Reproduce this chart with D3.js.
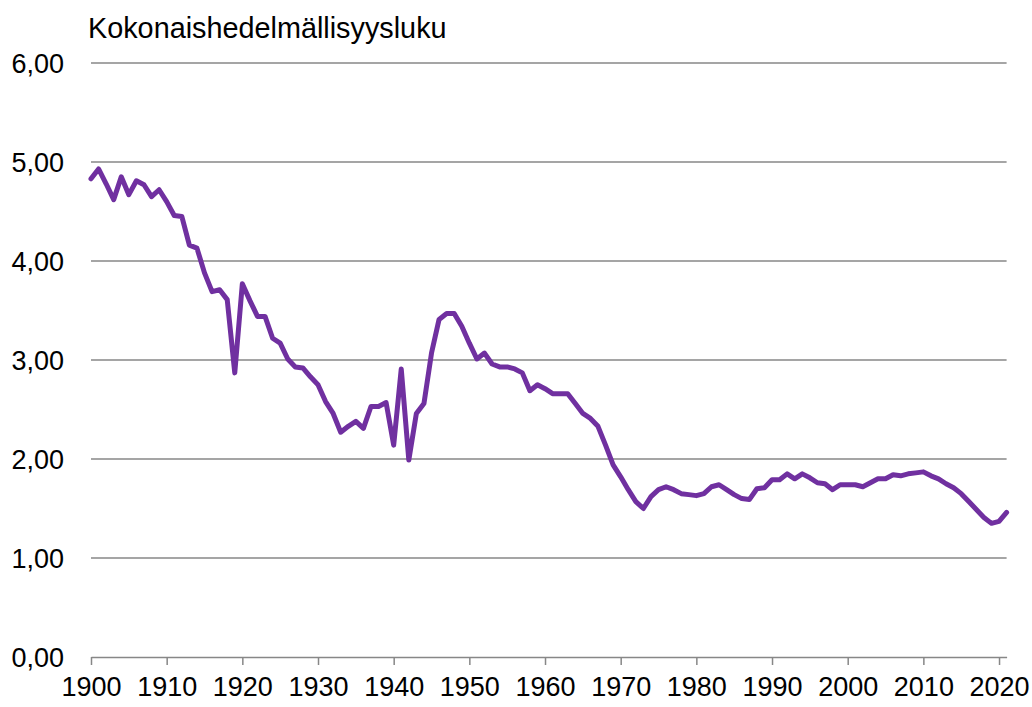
<!DOCTYPE html>
<html>
<head>
<meta charset="utf-8">
<script src="https://cdn.jsdelivr.net/npm/d3@7"></script>
<style>
  body { margin: 0; background: #fff; }
  text { font-family: "Liberation Sans", Arial, sans-serif; fill: #000; }
</style>
</head>
<body>
<svg id="chart"></svg>
<script>
// Total fertility rate in Finland, 1900-2021
const years = d3.range(1900, 2022);
const fertility = [
  4.83, 4.93, 4.78, 4.62, 4.85, 4.67, 4.81, 4.77, 4.65, 4.72,
  4.60, 4.46, 4.45, 4.16, 4.13, 3.88, 3.69, 3.71, 3.61, 2.87,
  3.77, 3.60, 3.44, 3.44, 3.22, 3.17, 3.01, 2.93, 2.92, 2.83,
  2.75, 2.58, 2.46, 2.27, 2.33, 2.38, 2.31, 2.53, 2.53, 2.57,
  2.14, 2.91, 1.99, 2.46, 2.56, 3.07, 3.41, 3.47, 3.47, 3.34,
  3.17, 3.01, 3.07, 2.96, 2.93, 2.93, 2.91, 2.87, 2.69, 2.75,
  2.71, 2.66, 2.66, 2.66, 2.56, 2.46, 2.41, 2.33, 2.14, 1.94,
  1.82, 1.69, 1.57, 1.50, 1.62, 1.69, 1.72, 1.69, 1.65, 1.64,
  1.63, 1.65, 1.72, 1.74, 1.69, 1.64, 1.60, 1.59, 1.70, 1.71,
  1.79, 1.79, 1.85, 1.80, 1.85, 1.81, 1.76, 1.75, 1.69, 1.74,
  1.74, 1.74, 1.72, 1.76, 1.80, 1.80, 1.84, 1.83, 1.85, 1.86,
  1.87, 1.83, 1.80, 1.75, 1.71, 1.65, 1.57, 1.49, 1.41, 1.35,
  1.37, 1.46
];
const yTicks = [0, 1, 2, 3, 4, 5, 6];
const xTicks = d3.range(1900, 2021, 10);
const yTitle = "Kokonaishedelmällisyysluku";

const width = 1032, height = 707;
const margin = { top: 63, right: 25.4, bottom: 50, left: 91 };

const svg = d3.select("#chart")
  .attr("width", width)
  .attr("height", height);

const x = d3.scaleLinear()
  .domain([1900, 2021])
  .range([margin.left, width - margin.right]);

const y = d3.scaleLinear()
  .domain([0, 6])
  .range([height - margin.bottom, margin.top]);

// gridlines
svg.append("g")
  .selectAll("line")
  .data(yTicks.filter(d => d > 0))
  .join("line")
  .attr("x1", x(1900))
  .attr("x2", x(2021))
  .attr("y1", d => y(d))
  .attr("y2", d => y(d))
  .attr("stroke", "#878787")
  .attr("stroke-width", 1.5);

// y labels
svg.append("g")
  .selectAll("text")
  .data(yTicks)
  .join("text")
  .attr("x", 64)
  .attr("y", d => y(d))
  .attr("dy", "0.36em")
  .attr("text-anchor", "end")
  .style("font-size", "27px")
  .text(d => d3.format(".2f")(d).replace(".", ","));

// x axis
const xAxis = d3.axisBottom(x)
  .tickValues(xTicks)
  .tickSize(8)
  .tickSizeOuter(0)
  .tickPadding(12)
  .tickFormat(d3.format("d"));

const gx = svg.append("g")
  .attr("transform", `translate(0,${y(0)})`)
  .call(xAxis);

gx.select(".domain")
  .attr("stroke", "#878787")
  .attr("stroke-width", 1.5);
gx.selectAll(".tick line")
  .attr("stroke", "#878787")
  .attr("stroke-width", 1.5);
gx.selectAll(".tick text")
  .style("font-size", "27px")
  .style("font-family", "'Liberation Sans', Arial, sans-serif")
  .attr("fill", "#000");

// title
svg.append("text")
  .attr("x", 88)
  .attr("y", 38)
  .style("font-size", "28.8px")
  .text(yTitle);

// line
const line = d3.line()
  .x((d, i) => x(years[i]))
  .y(d => y(d));

svg.append("path")
  .datum(fertility)
  .attr("fill", "none")
  .attr("stroke", "#7030A0")
  .attr("stroke-width", 5)
  .attr("stroke-linejoin", "round")
  .attr("stroke-linecap", "round")
  .attr("d", line);
</script>
</body>
</html>
